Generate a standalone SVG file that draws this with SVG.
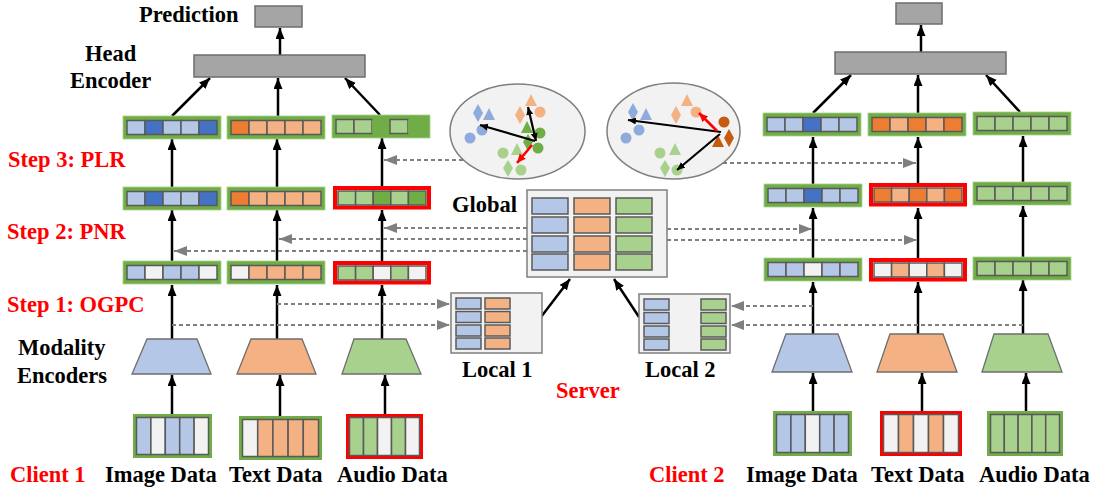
<svg xmlns="http://www.w3.org/2000/svg" width="1097" height="493" viewBox="0 0 1097 493">
  <defs>
    <style>
      .lbl { font-family: "Liberation Serif", "Times New Roman", serif; font-weight: bold; font-size: 22.5px; fill: #000; }
      .red { fill: #FF0000; }
      .fg { fill: #70AD47; stroke: #A9D18E; stroke-width: 0.8; }
      .fr { fill: #FFFFFF; stroke: #FF0000; stroke-width: 4; }
      .dfg { fill: #FFFFFF; stroke: #70AD47; stroke-width: 3.5; }
      .dfr { fill: #FFFFFF; stroke: #FF0000; stroke-width: 3.5; }
      .c { stroke: #595959; stroke-width: 1.5; }
      .lb { fill: #B4C7E7; }
      .db { fill: #4472C4; }
      .lo { fill: #F4B183; }
      .do { fill: #ED7D31; }
      .lg { fill: #A9D18E; }
      .dg { fill: #70AD47; }
      .em { fill: #F2F2F2; }
      .gray { fill: #A5A5A5; stroke: #6E6E6E; stroke-width: 1.5; }
      .panel { fill: #F2F2F2; stroke: #7F7F7F; stroke-width: 1.5; }
      .enc { stroke: #6E6E6E; stroke-width: 1.3; }
      .solid { stroke: #000; stroke-width: 2.5; fill: none; marker-end: url(#ah); }
      .dash { stroke: #7F7F7F; stroke-width: 2; stroke-dasharray: 4 3; fill: none; marker-end: url(#ag); }
      .thin { stroke: #000; stroke-width: 2.2; fill: none; marker-end: url(#as); }
      .thinr { stroke: #FF0000; stroke-width: 2.6; fill: none; marker-end: url(#ar); }
      .sb { fill: #8FAADC; }
      .so { fill: #F4B183; }
      .sdo { fill: #C55A11; }
      .sdg { fill: #70AD47; }
      .slg { fill: #A9D18E; }
    </style>
    <marker id="ah" markerUnits="userSpaceOnUse" markerWidth="12" markerHeight="10" refX="11" refY="4.5" orient="auto">
      <path d="M0,0 L11,4.5 L0,9 z" fill="#000"/>
    </marker>
    <marker id="ag" markerUnits="userSpaceOnUse" markerWidth="14" markerHeight="11" refX="13" refY="5" orient="auto">
      <path d="M0,0 L13,5 L0,10 z" fill="#7F7F7F"/>
    </marker>
    <marker id="as" markerUnits="userSpaceOnUse" markerWidth="9" markerHeight="8" refX="8" refY="3.5" orient="auto-start-reverse">
      <path d="M0,0 L8,3.5 L0,7 z" fill="#000"/>
    </marker>
    <marker id="ar" markerUnits="userSpaceOnUse" markerWidth="10" markerHeight="9" refX="9" refY="4" orient="auto">
      <path d="M0,0 L9,4 L0,8 z" fill="#FF0000"/>
    </marker>
  </defs>

  <rect width="1097" height="493" fill="#FFFFFF"/>

  <!-- text labels -->
  <g id="labels">
    <text class="lbl" x="139" y="22">Prediction</text>
    <text class="lbl" x="85" y="61">Head</text>
    <text class="lbl" x="70" y="88">Encoder</text>
    <text class="lbl red" x="8" y="167">Step 3: PLR</text>
    <text class="lbl red" x="7" y="239">Step 2: PNR</text>
    <text class="lbl red" x="7" y="312">Step 1: OGPC</text>
    <text class="lbl" x="18" y="355">Modality</text>
    <text class="lbl" x="17" y="383">Encoders</text>
    <text class="lbl red" x="10" y="482">Client 1</text>
    <text class="lbl" x="105" y="482">Image Data</text>
    <text class="lbl" x="229" y="482">Text Data</text>
    <text class="lbl" x="337" y="482">Audio Data</text>
    <text class="lbl" x="452" y="212">Global</text>
    <text class="lbl" x="462" y="377">Local 1</text>
    <text class="lbl" x="645" y="377">Local 2</text>
    <text class="lbl red" x="556" y="398">Server</text>
    <text class="lbl red" x="649" y="482">Client 2</text>
    <text class="lbl" x="746" y="482">Image Data</text>
    <text class="lbl" x="871" y="482">Text Data</text>
    <text class="lbl" x="979" y="482">Audio Data</text>
  </g>

  <!-- connectors -->
  <g id="connectors">
    <!-- client 1 solid flow -->
    <line class="solid" x1="280" y1="55" x2="280" y2="28"/>
    <line class="solid" x1="172" y1="116" x2="210" y2="78"/>
    <line class="solid" x1="278" y1="116" x2="278" y2="78"/>
    <line class="solid" x1="380" y1="115" x2="345" y2="78"/>
    <line class="solid" x1="172" y1="187" x2="172" y2="139"/>
    <line class="solid" x1="277" y1="187" x2="277" y2="139"/>
    <line class="solid" x1="382" y1="186" x2="382" y2="138"/>
    <line class="solid" x1="172" y1="261" x2="172" y2="210"/>
    <line class="solid" x1="277" y1="261" x2="277" y2="210"/>
    <line class="solid" x1="382" y1="261" x2="382" y2="210"/>
    <line class="solid" x1="172" y1="339" x2="172" y2="285"/>
    <line class="solid" x1="277" y1="339" x2="277" y2="285"/>
    <line class="solid" x1="382" y1="339" x2="382" y2="285"/>
    <line class="solid" x1="172" y1="414" x2="172" y2="375"/>
    <line class="solid" x1="280" y1="416" x2="280" y2="375"/>
    <line class="solid" x1="385" y1="414" x2="385" y2="375"/>

    <!-- client 2 solid flow -->
    <line class="solid" x1="921" y1="52" x2="921" y2="25"/>
    <line class="solid" x1="813" y1="113" x2="851" y2="75"/>
    <line class="solid" x1="918" y1="113" x2="918" y2="75"/>
    <line class="solid" x1="1020" y1="112" x2="986" y2="75"/>
    <line class="solid" x1="813" y1="184" x2="813" y2="137"/>
    <line class="solid" x1="918" y1="184" x2="918" y2="137"/>
    <line class="solid" x1="1023" y1="182" x2="1023" y2="136"/>
    <line class="solid" x1="813" y1="258" x2="813" y2="208"/>
    <line class="solid" x1="918" y1="258" x2="918" y2="208"/>
    <line class="solid" x1="1023" y1="257" x2="1023" y2="206"/>
    <line class="solid" x1="813" y1="334" x2="813" y2="282"/>
    <line class="solid" x1="918" y1="334" x2="918" y2="282"/>
    <line class="solid" x1="1023" y1="334" x2="1023" y2="280"/>
    <line class="solid" x1="813" y1="411" x2="813" y2="373"/>
    <line class="solid" x1="922" y1="411" x2="922" y2="373"/>
    <line class="solid" x1="1026" y1="411" x2="1026" y2="373"/>

    <!-- locals to global -->
    <line class="solid" x1="541" y1="317" x2="570" y2="279"/>
    <line class="solid" x1="639" y1="317" x2="614" y2="279"/>

    <!-- server to client 1 -->
    <line class="dash" x1="463" y1="160" x2="384" y2="160"/>
    <line class="dash" x1="527" y1="228" x2="384" y2="228"/>
    <line class="dash" x1="527" y1="239" x2="279" y2="239"/>
    <line class="dash" x1="527" y1="251" x2="174" y2="251"/>
    <!-- client 1 to local 1 -->
    <line class="dash" x1="277" y1="304" x2="450" y2="304"/>
    <line class="dash" x1="172" y1="325" x2="450" y2="325"/>

    <!-- server to client 2 -->
    <line class="dash" x1="723" y1="163" x2="916" y2="163"/>
    <line class="dash" x1="667" y1="229" x2="812" y2="229"/>
    <line class="dash" x1="667" y1="240" x2="917" y2="240"/>
    <!-- client 2 to local 2 -->
    <line class="dash" x1="813" y1="306" x2="731" y2="306"/>
    <line class="dash" x1="1023" y1="325" x2="731" y2="325"/>
  </g>

  <!-- client 1 -->
  <g id="client1-head">
    <rect class="gray" x="255" y="6" width="47" height="21"/>
    <rect class="gray" x="194" y="55" width="171" height="22"/>
  </g>

  <g id="client1-row3">
    <rect class="fg" x="123" y="116" width="98" height="23"/>
    <rect class="c lb" x="127" y="120.5" width="18" height="14"/>
    <rect class="c db" x="145" y="120.5" width="18" height="14"/>
    <rect class="c lb" x="163" y="120.5" width="18" height="14"/>
    <rect class="c lb" x="181" y="120.5" width="18" height="14"/>
    <rect class="c db" x="199" y="120.5" width="18" height="14"/>
    <rect class="fg" x="227" y="116" width="98" height="23"/>
    <rect class="c do" x="231" y="120.5" width="18" height="14"/>
    <rect class="c lo" x="249" y="120.5" width="18" height="14"/>
    <rect class="c lo" x="267" y="120.5" width="18" height="14"/>
    <rect class="c lo" x="285" y="120.5" width="18" height="14"/>
    <rect class="c lo" x="303" y="120.5" width="18" height="14"/>
    <rect class="fg" x="332" y="115" width="98" height="23"/>
    <rect class="c lg" x="336" y="119.5" width="18" height="14"/>
    <rect class="c lg" x="354" y="119.5" width="18" height="14"/>
    <rect class="dg" x="372" y="119.5" width="18" height="14"/>
    <rect class="c lg" x="390" y="119.5" width="18" height="14"/>
    <rect class="dg" x="408" y="119.5" width="18" height="14"/>
  </g>

  <g id="client1-row2">
    <rect class="fg" x="123" y="187" width="98" height="23"/>
    <rect class="c lb" x="127" y="191.5" width="18" height="14"/>
    <rect class="c db" x="145" y="191.5" width="18" height="14"/>
    <rect class="c lb" x="163" y="191.5" width="18" height="14"/>
    <rect class="c lb" x="181" y="191.5" width="18" height="14"/>
    <rect class="c db" x="199" y="191.5" width="18" height="14"/>
    <rect class="fg" x="227" y="187" width="98" height="23"/>
    <rect class="c do" x="231" y="191.5" width="18" height="14"/>
    <rect class="c lo" x="249" y="191.5" width="18" height="14"/>
    <rect class="c lo" x="267" y="191.5" width="18" height="14"/>
    <rect class="c lo" x="285" y="191.5" width="18" height="14"/>
    <rect class="c lo" x="303" y="191.5" width="18" height="14"/>
    <rect class="fr" x="335" y="188" width="94" height="19.5"/>
    <rect class="c lg" x="338" y="191" width="17.6" height="14"/>
    <rect class="c lg" x="355.6" y="191" width="17.6" height="14"/>
    <rect class="c dg" x="373.2" y="191" width="17.6" height="14"/>
    <rect class="c lg" x="390.8" y="191" width="17.6" height="14"/>
    <rect class="c dg" x="408.4" y="191" width="17.6" height="14"/>
  </g>

  <g id="client1-row1">
    <rect class="fg" x="123" y="261" width="98" height="23"/>
    <rect class="c lb" x="127" y="265.5" width="18" height="14"/>
    <rect class="c em" x="145" y="265.5" width="18" height="14"/>
    <rect class="c lb" x="163" y="265.5" width="18" height="14"/>
    <rect class="c lb" x="181" y="265.5" width="18" height="14"/>
    <rect class="c em" x="199" y="265.5" width="18" height="14"/>
    <rect class="fg" x="227" y="261" width="98" height="23"/>
    <rect class="c em" x="231" y="265.5" width="18" height="14"/>
    <rect class="c lo" x="249" y="265.5" width="18" height="14"/>
    <rect class="c lo" x="267" y="265.5" width="18" height="14"/>
    <rect class="c lo" x="285" y="265.5" width="18" height="14"/>
    <rect class="c lo" x="303" y="265.5" width="18" height="14"/>
    <rect class="fr" x="335" y="263" width="94" height="19.5"/>
    <rect class="c lg" x="338" y="266" width="17.6" height="14"/>
    <rect class="c lg" x="355.6" y="266" width="17.6" height="14"/>
    <rect class="c em" x="373.2" y="266" width="17.6" height="14"/>
    <rect class="c lg" x="390.8" y="266" width="17.6" height="14"/>
    <rect class="c em" x="408.4" y="266" width="17.6" height="14"/>
  </g>

  <g id="client1-encoders">
    <polygon class="enc lb" points="147,339 197,339 211,374 132,374"/>
    <polygon class="enc lo" points="251,339 302,339 316,374 237,374"/>
    <polygon class="enc lg" points="354,339 406,339 421,374 342,374"/>
  </g>

  <g id="client1-data">
    <rect class="dfg" x="134.75" y="415.75" width="75.5" height="40.5"/>
    <rect class="c lb" x="136.5" y="417.5" width="14.4" height="37"/>
    <rect class="c em" x="150.9" y="417.5" width="14.4" height="37"/>
    <rect class="c lb" x="165.3" y="417.5" width="14.4" height="37"/>
    <rect class="c lb" x="179.7" y="417.5" width="14.4" height="37"/>
    <rect class="c em" x="194.1" y="417.5" width="14.4" height="37"/>
    <rect class="dfg" x="240.75" y="417.75" width="79.5" height="40.5"/>
    <rect class="c em" x="242.5" y="419.5" width="15.2" height="37"/>
    <rect class="c lo" x="257.7" y="419.5" width="15.2" height="37"/>
    <rect class="c lo" x="272.9" y="419.5" width="15.2" height="37"/>
    <rect class="c lo" x="288.1" y="419.5" width="15.2" height="37"/>
    <rect class="c lo" x="303.3" y="419.5" width="15.2" height="37"/>
    <rect class="dfr" x="347.75" y="415.75" width="73.5" height="41.5"/>
    <rect class="c lg" x="349.5" y="417.5" width="14" height="38"/>
    <rect class="c lg" x="363.5" y="417.5" width="14" height="38"/>
    <rect class="c em" x="377.5" y="417.5" width="14" height="38"/>
    <rect class="c lg" x="391.5" y="417.5" width="14" height="38"/>
    <rect class="c em" x="405.5" y="417.5" width="14" height="38"/>
  </g>

  <!-- server -->
  <g id="global">
    <rect class="panel" x="527" y="190" width="140" height="87"/>
    <rect class="c lb" x="532" y="198" width="36" height="16"/>
    <rect class="c lb" x="532" y="217" width="36" height="16"/>
    <rect class="c lb" x="532" y="236" width="36" height="16"/>
    <rect class="c lb" x="532" y="254" width="36" height="16"/>
    <rect class="c lo" x="574" y="198" width="36" height="16"/>
    <rect class="c lo" x="574" y="217" width="36" height="16"/>
    <rect class="c lo" x="574" y="236" width="36" height="16"/>
    <rect class="c lo" x="574" y="254" width="36" height="16"/>
    <rect class="c lg" x="616" y="198" width="36" height="16"/>
    <rect class="c lg" x="616" y="217" width="36" height="16"/>
    <rect class="c lg" x="616" y="236" width="36" height="16"/>
    <rect class="c lg" x="616" y="254" width="36" height="16"/>
  </g>

  <g id="local1">
    <rect class="panel" x="451" y="293" width="91" height="60"/>
    <rect class="c lb" x="456" y="298" width="25" height="11"/>
    <rect class="c lb" x="456" y="311.5" width="25" height="11"/>
    <rect class="c lb" x="456" y="325" width="25" height="11"/>
    <rect class="c lb" x="456" y="338" width="25" height="11"/>
    <rect class="c lo" x="485" y="298" width="25" height="11"/>
    <rect class="c lo" x="485" y="311.5" width="25" height="11"/>
    <rect class="c lo" x="485" y="325" width="25" height="11"/>
    <rect class="c lo" x="485" y="338" width="25" height="11"/>
  </g>

  <g id="local2">
    <rect class="panel" x="639" y="294" width="91" height="59"/>
    <rect class="c lb" x="644" y="299" width="25" height="11"/>
    <rect class="c lb" x="644" y="312.5" width="25" height="11"/>
    <rect class="c lb" x="644" y="326" width="25" height="11"/>
    <rect class="c lb" x="644" y="339" width="25" height="11"/>
    <rect class="c lg" x="701" y="299" width="25" height="11"/>
    <rect class="c lg" x="701" y="312.5" width="25" height="11"/>
    <rect class="c lg" x="701" y="326" width="25" height="11"/>
    <rect class="c lg" x="701" y="339" width="25" height="11"/>
  </g>

  <!-- prototype spaces -->
  <g id="space1">
    <ellipse cx="517.5" cy="131.5" rx="67.5" ry="47.5" fill="#F2F2F2" stroke="#7F7F7F" stroke-width="1.5"/>
    <path class="sb" d="M478,104 L483,113 L478,122 L473,113 z"/>
    <path class="sb" d="M489,108 L495,120 L483,120 z"/>
    <circle class="sb" cx="470" cy="138" r="5.5"/>
    <circle class="sb" cx="482" cy="130" r="5.5"/>
    <path class="so" d="M531,94 L537,106 L525,106 z"/>
    <path class="so" d="M520,106 L525,115 L520,124 L515,115 z"/>
    <circle class="so" cx="540" cy="112" r="5.5"/>
    <path class="sdg" d="M527,121 L533,133 L521,133 z"/>
    <circle class="sdg" cx="540" cy="133" r="5.5"/>
    <path class="sdg" d="M528,134 L533,142 L528,151 L523,142 z"/>
    <circle class="sdg" cx="538" cy="148" r="5.5"/>
    <path class="slg" d="M517,143 L523,155 L511,155 z"/>
    <circle class="slg" cx="503" cy="153" r="5.5"/>
    <path class="slg" d="M508,160 L513,168 L508,177 L503,168 z"/>
    <circle class="slg" cx="521" cy="170" r="5.5"/>
    <line class="thin" x1="535" y1="141" x2="480" y2="125"/>
    <line class="thin" x1="536" y1="141" x2="528" y2="107" style="marker-start:url(#as)"/>
    <line class="thinr" x1="532" y1="145" x2="517" y2="163"/>
  </g>

  <g id="space2">
    <ellipse cx="673.5" cy="131" rx="66.5" ry="48" fill="#F2F2F2" stroke="#7F7F7F" stroke-width="1.5"/>
    <path class="sb" d="M633,103 L638,112 L633,121 L628,112 z"/>
    <path class="sb" d="M646,108 L652,120 L640,120 z"/>
    <circle class="sb" cx="639" cy="130" r="5.5"/>
    <circle class="sb" cx="626" cy="138" r="5.5"/>
    <path class="so" d="M687,94 L693,106 L681,106 z"/>
    <path class="so" d="M676,106 L681,115 L676,124 L671,115 z"/>
    <circle class="so" cx="696" cy="112" r="5.5"/>
    <circle class="sdo" cx="724" cy="122" r="5.5"/>
    <path class="sdo" d="M718,135 L724,147 L712,147 z"/>
    <path class="sdo" d="M729,129 L734,138 L729,147 L724,138 z"/>
    <circle class="slg" cx="660" cy="153" r="5.5"/>
    <path class="slg" d="M675,143 L681,155 L669,155 z"/>
    <path class="slg" d="M665,160 L670,168 L665,177 L660,168 z"/>
    <circle class="slg" cx="677" cy="170" r="5.5"/>
    <line class="thin" x1="721" y1="132" x2="628" y2="120"/>
    <line class="thin" x1="720" y1="134" x2="677" y2="170"/>
    <line class="thinr" x1="717" y1="131" x2="699" y2="113"/>
  </g>

  <!-- client 2 -->
  <g id="client2-head">
    <rect class="gray" x="896" y="3" width="46" height="21"/>
    <rect class="gray" x="835" y="52" width="171" height="22"/>
  </g>

  <g id="client2-row3">
    <rect class="fg" x="763" y="113" width="98" height="23"/>
    <rect class="c lb" x="767" y="117.5" width="18" height="14"/>
    <rect class="c lb" x="785" y="117.5" width="18" height="14"/>
    <rect class="c db" x="803" y="117.5" width="18" height="14"/>
    <rect class="c lb" x="821" y="117.5" width="18" height="14"/>
    <rect class="c lb" x="839" y="117.5" width="18" height="14"/>
    <rect class="fg" x="868" y="113" width="98" height="23"/>
    <rect class="c do" x="872" y="117.5" width="18" height="14"/>
    <rect class="c lo" x="890" y="117.5" width="18" height="14"/>
    <rect class="c do" x="908" y="117.5" width="18" height="14"/>
    <rect class="c lo" x="926" y="117.5" width="18" height="14"/>
    <rect class="c do" x="944" y="117.5" width="18" height="14"/>
    <rect class="fg" x="973" y="112" width="98" height="23"/>
    <rect class="c lg" x="977" y="116.5" width="18" height="14"/>
    <rect class="c lg" x="995" y="116.5" width="18" height="14"/>
    <rect class="c lg" x="1013" y="116.5" width="18" height="14"/>
    <rect class="c lg" x="1031" y="116.5" width="18" height="14"/>
    <rect class="c lg" x="1049" y="116.5" width="18" height="14"/>
  </g>

  <g id="client2-row2">
    <rect class="fg" x="764" y="184" width="98" height="23"/>
    <rect class="c lb" x="768" y="188.5" width="18" height="14"/>
    <rect class="c lb" x="786" y="188.5" width="18" height="14"/>
    <rect class="c db" x="804" y="188.5" width="18" height="14"/>
    <rect class="c lb" x="822" y="188.5" width="18" height="14"/>
    <rect class="c lb" x="840" y="188.5" width="18" height="14"/>
    <rect class="fr" x="871" y="185" width="94" height="19.5"/>
    <rect class="c do" x="874" y="188" width="17.6" height="14"/>
    <rect class="c lo" x="891.6" y="188" width="17.6" height="14"/>
    <rect class="c do" x="909.2" y="188" width="17.6" height="14"/>
    <rect class="c lo" x="926.8" y="188" width="17.6" height="14"/>
    <rect class="c do" x="944.4" y="188" width="17.6" height="14"/>
    <rect class="fg" x="973" y="182" width="98" height="23"/>
    <rect class="c lg" x="977" y="186.5" width="18" height="14"/>
    <rect class="c lg" x="995" y="186.5" width="18" height="14"/>
    <rect class="c lg" x="1013" y="186.5" width="18" height="14"/>
    <rect class="c lg" x="1031" y="186.5" width="18" height="14"/>
    <rect class="c lg" x="1049" y="186.5" width="18" height="14"/>
  </g>

  <g id="client2-row1">
    <rect class="fg" x="764" y="258" width="98" height="23"/>
    <rect class="c lb" x="768" y="262.5" width="18" height="14"/>
    <rect class="c lb" x="786" y="262.5" width="18" height="14"/>
    <rect class="c em" x="804" y="262.5" width="18" height="14"/>
    <rect class="c lb" x="822" y="262.5" width="18" height="14"/>
    <rect class="c lb" x="840" y="262.5" width="18" height="14"/>
    <rect class="fr" x="871" y="260" width="94" height="19.5"/>
    <rect class="c em" x="874" y="263" width="17.6" height="14"/>
    <rect class="c lo" x="891.6" y="263" width="17.6" height="14"/>
    <rect class="c em" x="909.2" y="263" width="17.6" height="14"/>
    <rect class="c lo" x="926.8" y="263" width="17.6" height="14"/>
    <rect class="c em" x="944.4" y="263" width="17.6" height="14"/>
    <rect class="fg" x="973" y="257" width="98" height="23"/>
    <rect class="c lg" x="977" y="261.5" width="18" height="14"/>
    <rect class="c lg" x="995" y="261.5" width="18" height="14"/>
    <rect class="c lg" x="1013" y="261.5" width="18" height="14"/>
    <rect class="c lg" x="1031" y="261.5" width="18" height="14"/>
    <rect class="c lg" x="1049" y="261.5" width="18" height="14"/>
  </g>

  <g id="client2-encoders">
    <polygon class="enc lb" points="786,334 838,334 852,372 772,372"/>
    <polygon class="enc lo" points="890,334 943,334 957,372 877,372"/>
    <polygon class="enc lg" points="994,334 1048,334 1062,372 982,372"/>
  </g>

  <g id="client2-data">
    <rect class="dfg" x="774.75" y="412.75" width="75.5" height="41.5"/>
    <rect class="c lb" x="776.5" y="414.5" width="14.4" height="38"/>
    <rect class="c lb" x="790.9" y="414.5" width="14.4" height="38"/>
    <rect class="c em" x="805.3" y="414.5" width="14.4" height="38"/>
    <rect class="c lb" x="819.7" y="414.5" width="14.4" height="38"/>
    <rect class="c lb" x="834.1" y="414.5" width="14.4" height="38"/>
    <rect class="dfr" x="881.75" y="412.75" width="78.5" height="41.5"/>
    <rect class="c em" x="883.5" y="414.5" width="15" height="38"/>
    <rect class="c lo" x="898.5" y="414.5" width="15" height="38"/>
    <rect class="c em" x="913.5" y="414.5" width="15" height="38"/>
    <rect class="c lo" x="928.5" y="414.5" width="15" height="38"/>
    <rect class="c em" x="943.5" y="414.5" width="15" height="38"/>
    <rect class="dfg" x="988.75" y="412.75" width="72.5" height="41.5"/>
    <rect class="c lg" x="990.5" y="414.5" width="13.8" height="38"/>
    <rect class="c lg" x="1004.3" y="414.5" width="13.8" height="38"/>
    <rect class="c lg" x="1018.1" y="414.5" width="13.8" height="38"/>
    <rect class="c lg" x="1031.9" y="414.5" width="13.8" height="38"/>
    <rect class="c lg" x="1045.7" y="414.5" width="13.8" height="38"/>
  </g>
</svg>
